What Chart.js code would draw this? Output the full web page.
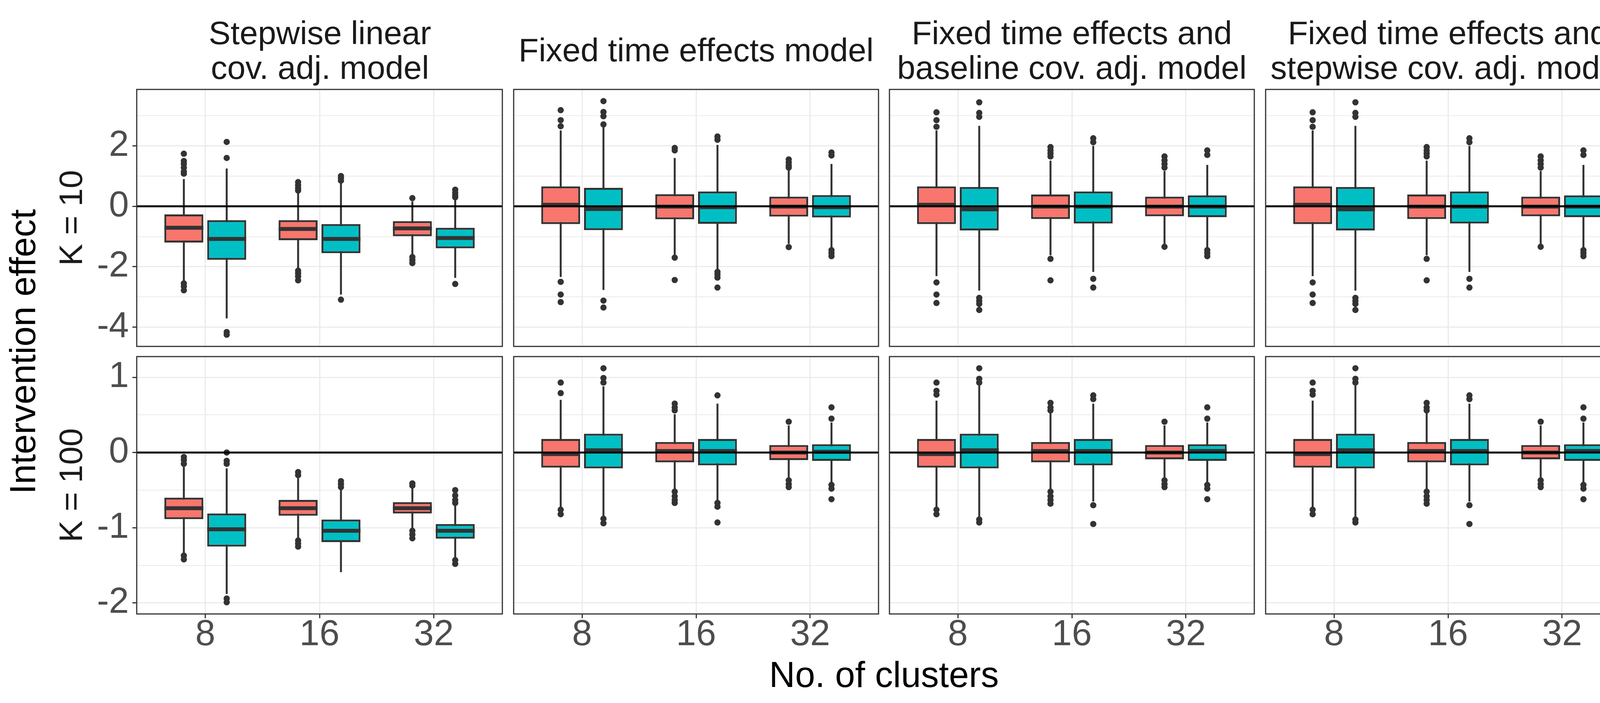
<!DOCTYPE html>
<html>
<head>
<meta charset="utf-8">
<script src="https://cdn.jsdelivr.net/npm/chart.js@4.4.1/dist/chart.umd.min.js"></script>
<style>
html,body{margin:0;padding:0;background:#fff;}
#wrap{position:relative;width:4200px;height:1800px;overflow:hidden;background:#fff;}
#wrap canvas{position:absolute;}
#txt{position:absolute;left:0;top:0;}
</style>
</head>
<body>
<div id="wrap"><svg id="txt" width="4200" height="1800" xmlns="http://www.w3.org/2000/svg"></svg></div>
<script>
// ---------------- data ----------------
const CLUSTERS = ['8', '16', '32'];
const MODEL_TITLES = [
  ['Stepwise linear', 'cov. adj. model'],
  ['Fixed time effects model'],
  ['Fixed time effects and', 'baseline cov. adj. model'],
  ['Fixed time effects and', 'stepwise cov. adj. model']
];
const K_LABELS = ['K = 10', 'K = 100'];
const X_TITLE = 'No. of clusters';
const Y_TITLE = 'Intervention effect';

// five-number summaries per cluster: [lower whisker, Q1, median, Q3, upper whisker]
// group A = red, group B = teal
// ---- K = 10 ----
const SLC_K10_A = [[-2.46, -1.20, -0.71, -0.27, 0.90], [-2.08, -1.12, -0.75, -0.46, 0.48], [-1.62, -0.99, -0.73, -0.49, 0.16]];
const SLC_K10_A_OUT = [[1.74, 1.50, 1.40, 1.28, 1.15, 1.08, -2.55, -2.65, -2.78], [0.80, 0.70, 0.60, 0.52, -2.13, -2.22, -2.32, -2.45], [0.27, -1.68, -1.78, -1.88]];
const SLC_K10_B = [[-3.71, -1.77, -1.08, -0.46, 1.25], [-2.92, -1.55, -1.08, -0.59, 0.76], [-2.37, -1.39, -1.05, -0.71, 0.25]];
const SLC_K10_B_OUT = [[2.13, 1.60, -4.16, -4.25], [1.00, 0.93, 0.85, -3.09], [0.55, 0.45, 0.36, 0.30, -2.57]];

const FTE_K10_A = [[-2.34, -0.59, 0.05, 0.66, 2.51], [-1.61, -0.43, -0.01, 0.40, 1.60], [-1.24, -0.34, -0.01, 0.32, 1.21]];
const FTE_K10_A_OUT = [[3.18, 2.85, 2.65, -2.50, -2.92, -3.17], [1.93, 1.85, -1.70, -2.44], [1.55, 1.45, 1.35, 1.28, -1.35]];
const FTE_K10_B = [[-2.77, -0.79, -0.09, 0.61, 2.62], [-2.08, -0.58, -0.03, 0.49, 2.03], [-1.39, -0.37, -0.03, 0.37, 1.40]];
const FTE_K10_B_OUT = [[3.48, 3.12, 2.98, 2.71, -3.12, -3.35], [2.31, 2.20, -2.17, -2.26, -2.36, -2.69], [1.78, 1.68, -1.45, -1.55, -1.65]];

const FTB_K10_A = [[-2.31, -0.59, 0.05, 0.66, 2.51], [-1.62, -0.42, -0.01, 0.39, 1.51], [-1.25, -0.33, -0.01, 0.32, 1.17]];
const FTB_K10_A_OUT = [[3.11, 2.85, 2.63, -2.52, -2.92, -3.20], [1.96, 1.85, 1.75, 1.65, -1.74, -2.45], [1.65, 1.52, 1.40, 1.28, -1.34]];
const FTB_K10_B = [[-2.79, -0.80, -0.10, 0.64, 2.66], [-2.17, -0.57, -0.01, 0.49, 2.00], [-1.39, -0.36, -0.01, 0.36, 1.37]];
const FTB_K10_B_OUT = [[3.44, 3.09, 2.96, -3.03, -3.13, -3.23, -3.43], [2.25, 2.12, -2.40, -2.69], [1.85, 1.70, -1.45, -1.55, -1.65]];

const FTS_K10_A = [[-2.31, -0.59, 0.05, 0.66, 2.51], [-1.62, -0.42, -0.01, 0.39, 1.51], [-1.25, -0.33, -0.01, 0.32, 1.17]];
const FTS_K10_A_OUT = [[3.11, 2.85, 2.63, -2.52, -2.92, -3.20], [1.96, 1.85, 1.75, 1.65, -1.74, -2.45], [1.65, 1.52, 1.40, 1.28, -1.34]];
const FTS_K10_B = [[-2.79, -0.80, -0.10, 0.64, 2.66], [-2.17, -0.57, -0.01, 0.49, 2.00], [-1.39, -0.36, -0.01, 0.36, 1.37]];
const FTS_K10_B_OUT = [[3.44, 3.09, 2.96, -3.03, -3.13, -3.23, -3.43], [2.25, 2.12, -2.40, -2.69], [1.85, 1.70, -1.45, -1.55, -1.65]];

// ---- K = 100 ----
const SLC_K100_A = [[-1.34, -0.885, -0.74, -0.60, -0.19], [-1.145, -0.84, -0.74, -0.63, -0.34], [-1.01, -0.81, -0.74, -0.66, -0.47]];
const SLC_K100_A_OUT = [[-0.06, -0.10, -0.15, -1.37, -1.42], [-0.26, -0.30, -1.17, -1.21, -1.25], [-0.41, -0.44, -1.04, -1.09, -1.14]];
const SLC_K100_B = [[-1.88, -1.25, -1.02, -0.81, -0.21], [-1.59, -1.19, -1.04, -0.89, -0.49], [-1.41, -1.145, -1.04, -0.95, -0.685]];
const SLC_K100_B_OUT = [[0.00, -0.11, -0.15, -1.94, -1.99], [-0.38, -0.42, -0.46], [-0.50, -0.57, -0.63, -0.67, -1.43, -1.48]];

const FTE_K100_A = [[-0.73, -0.20, -0.02, 0.18, 0.70], [-0.49, -0.13, 0.02, 0.14, 0.51], [-0.35, -0.10, 0.00, 0.10, 0.36]];
const FTE_K100_A_OUT = [[0.93, 0.79, -0.76, -0.82], [0.65, 0.60, 0.56, -0.52, -0.58, -0.63, -0.67], [0.41, -0.37, -0.42, -0.46]];
const FTE_K100_B = [[-0.86, -0.21, 0.03, 0.25, 0.88], [-0.64, -0.17, 0.02, 0.18, 0.65], [-0.40, -0.11, 0.01, 0.11, 0.40]];
const FTE_K100_B_OUT = [[1.12, 0.99, 0.93, -0.88, -0.94], [0.76, -0.67, -0.72, -0.93], [0.60, 0.45, -0.43, -0.48, -0.62]];

const FTB_K100_A = [[-0.73, -0.20, -0.02, 0.18, 0.69], [-0.50, -0.13, 0.02, 0.14, 0.53], [-0.35, -0.09, 0.00, 0.10, 0.36]];
const FTB_K100_A_OUT = [[0.93, 0.82, 0.77, -0.76, -0.82], [0.66, 0.60, 0.56, -0.52, -0.58, -0.63, -0.68], [0.41, -0.37, -0.42, -0.46]];
const FTB_K100_B = [[-0.86, -0.21, 0.03, 0.25, 0.89], [-0.65, -0.17, 0.02, 0.18, 0.65], [-0.40, -0.11, 0.02, 0.11, 0.40]];
const FTB_K100_B_OUT = [[1.12, 0.98, 0.93, -0.89, -0.93], [0.76, 0.71, -0.70, -0.95], [0.60, 0.45, -0.43, -0.48, -0.62]];

const FTS_K100_A = [[-0.73, -0.20, -0.02, 0.18, 0.69], [-0.50, -0.13, 0.02, 0.14, 0.53], [-0.35, -0.09, 0.00, 0.10, 0.36]];
const FTS_K100_A_OUT = [[0.93, 0.82, 0.77, -0.76, -0.82], [0.66, 0.60, 0.56, -0.52, -0.58, -0.63, -0.68], [0.41, -0.37, -0.42, -0.46]];
const FTS_K100_B = [[-0.86, -0.21, 0.03, 0.25, 0.89], [-0.65, -0.17, 0.02, 0.18, 0.65], [-0.40, -0.11, 0.02, 0.11, 0.40]];
const FTS_K100_B_OUT = [[1.12, 0.98, 0.93, -0.89, -0.93], [0.76, 0.71, -0.70, -0.95], [0.60, 0.45, -0.43, -0.48, -0.62]];

const PANELS = [
  [[SLC_K10_A, SLC_K10_A_OUT, SLC_K10_B, SLC_K10_B_OUT],
   [FTE_K10_A, FTE_K10_A_OUT, FTE_K10_B, FTE_K10_B_OUT],
   [FTB_K10_A, FTB_K10_A_OUT, FTB_K10_B, FTB_K10_B_OUT],
   [FTS_K10_A, FTS_K10_A_OUT, FTS_K10_B, FTS_K10_B_OUT]],
  [[SLC_K100_A, SLC_K100_A_OUT, SLC_K100_B, SLC_K100_B_OUT],
   [FTE_K100_A, FTE_K100_A_OUT, FTE_K100_B, FTE_K100_B_OUT],
   [FTB_K100_A, FTB_K100_A_OUT, FTB_K100_B, FTB_K100_B_OUT],
   [FTS_K100_A, FTS_K100_A_OUT, FTS_K100_B, FTS_K100_B_OUT]]
];
const Y_STEP = [1, 0.5];        // grid step (major + minor)
const Y_LABEL_EVERY = [2, 1];   // labelled (major) tick spacing

// ---------------- style / layout ----------------
const FONT = "'Liberation Sans', Arial, Helvetica, sans-serif";
const RED = '#F8766D', TEAL = '#00BFC4', DARK = '#333333', GRID = '#EBEBEB';
const COL_LEFT = [350, 1313, 2275, 3238];
const PANEL_W = 938;
const ROW_TOP = [229, 913];
const PANEL_H = [658, 659];
const PAD = 60, XAXIS_H = 120, YAXIS_W = 350, EDGE = 6;
const DODGE = 0.75, BOX_FRAC = 0.91;
const TICK_FONT = 92, STRIP_FONT = 84, AXIS_TITLE_FONT = 92;

Chart.defaults.font.family = FONT;

function rowRange(r) {
  let mn = Infinity, mx = -Infinity;
  PANELS[r].forEach(p => p.forEach(arr => arr.forEach(row => row.forEach(v => {
    if (v < mn) mn = v; if (v > mx) mx = v;
  }))));
  const pad = (mx - mn) * 0.05;
  return [mn - pad, mx + pad];
}
function isMajor(r, v) {
  const k = v / Y_LABEL_EVERY[r];
  return Math.abs(k - Math.round(k)) < 1e-6;
}

const boxExtras = {
  id: 'boxExtras',
  afterDatasetsDraw(chart) {
    const {ctx, chartArea, scales} = chart;
    const y = scales.y;
    ctx.save();
    chart.data.datasets.forEach((ds, di) => {
      if (!ds.medians) return;
      const meta = chart.getDatasetMeta(di);
      meta.data.forEach((el, i) => {
        const py = y.getPixelForValue(ds.medians[i]);
        ctx.fillStyle = DARK;
        ctx.fillRect(el.x - el.width / 2, py - 5, el.width, 10);
      });
    });
    const y0 = y.getPixelForValue(0);
    ctx.fillStyle = '#000000';
    ctx.fillRect(chartArea.left, y0 - 2.5, chartArea.right - chartArea.left, 5);
    ctx.strokeStyle = DARK;
    ctx.lineWidth = 3;
    ctx.strokeRect(chartArea.left, chartArea.top, chartArea.right - chartArea.left, chartArea.bottom - chartArea.top);
    ctx.restore();
  }
};

function groupDatasets(stats, outs, stackId, color, side) {
  const chunk = DODGE / 2;
  return {
    box: {
      type: 'bar', stack: stackId, order: 1,
      data: stats.map((s, i) => ({x: i, y: [s[1], s[3]]})),
      medians: stats.map(s => s[2]),
      backgroundColor: color, borderColor: DARK, borderWidth: 5, borderSkipped: false,
      categoryPercentage: DODGE, barPercentage: BOX_FRAC
    },
    whisk: {
      type: 'bar', stack: stackId, order: 2,
      data: stats.map((s, i) => ({x: i, y: [s[0], s[4]]})),
      backgroundColor: DARK, borderWidth: 0,
      categoryPercentage: DODGE, barPercentage: 0.0455
    },
    out: {
      type: 'scatter', order: 0,
      data: outs.flatMap((arr, i) => arr.map(v => ({x: i + side * chunk / 2, y: v}))),
      pointRadius: 8, pointHoverRadius: 8, pointBackgroundColor: DARK, pointBorderWidth: 0
    }
  };
}

const wrap = document.getElementById('wrap');
for (let r = 0; r < 2; r++) {
  const [yMin, yMax] = rowRange(r);
  for (let c = 0; c < 4; c++) {
    const [A, AO, B, BO] = PANELS[r][c];
    const gA = groupDatasets(A, AO, 'A', RED, -1);
    const gB = groupDatasets(B, BO, 'B', TEAL, 1);
    const left = c === 0 ? COL_LEFT[0] - YAXIS_W : COL_LEFT[c] - EDGE;
    const padLeft = c === 0 ? 0 : EDGE;
    const yW = c === 0 ? YAXIS_W : 0;
    const bottomH = r === 1 ? XAXIS_H : PAD;
    const cw = (COL_LEFT[c] - left) + PANEL_W + EDGE;
    const ch = PAD + PANEL_H[r] + bottomH;
    const cv = document.createElement('canvas');
    cv.width = cw; cv.height = ch;
    cv.style.left = left + 'px';
    cv.style.top = (ROW_TOP[r] - PAD) + 'px';
    cv.style.width = cw + 'px'; cv.style.height = ch + 'px';
    wrap.appendChild(cv);
    new Chart(cv, {
      type: 'bar',
      data: { datasets: [gA.box, gB.box, gA.whisk, gB.whisk, gA.out, gB.out] },
      options: {
        responsive: false, animation: false, events: [],
        devicePixelRatio: 1,
        layout: { padding: { left: padLeft, right: EDGE, top: PAD, bottom: r === 1 ? 0 : PAD } },
        plugins: { legend: { display: false }, tooltip: { enabled: false }, title: { display: false } },
        scales: {
          x: {
            type: 'linear', min: -0.6, max: 2.6, stacked: true, offset: false,
            afterBuildTicks: s => { s.ticks = CLUSTERS.map((_, i) => ({value: i})); },
            afterFit: s => { s.height = r === 1 ? XAXIS_H : 0; },
            ticks: {
              display: r === 1, autoSkip: false, maxRotation: 0, minRotation: 0, padding: -2,
              color: '#4D4D4D', font: { size: TICK_FONT, lineHeight: 1 },
              callback: v => CLUSTERS[Math.round(v)]
            },
            grid: { offset: false, color: GRID, lineWidth: 3, drawTicks: r === 1, tickLength: 11, tickWidth: 3, tickColor: DARK },
            border: { display: false }
          },
          y: {
            type: 'linear', min: yMin, max: yMax, stacked: false,
            afterFit: s => { s.width = yW; },
            ticks: {
              display: c === 0, stepSize: Y_STEP[r], includeBounds: false, autoSkip: false, padding: 9,
              color: '#4D4D4D', font: { size: TICK_FONT, lineHeight: 1 },
              callback: v => isMajor(r, v) ? String(Math.round(v)) : ''
            },
            grid: {
              offset: false,
              color: GRID,
              lineWidth: ctx => (ctx.tick && isMajor(r, ctx.tick.value)) ? 3 : 2,
              drawTicks: c === 0, tickLength: 11, tickWidth: 3,
              tickColor: ctx => (ctx.tick && isMajor(r, ctx.tick.value)) ? DARK : 'rgba(0,0,0,0)'
            },
            border: { display: false }
          }
        }
      },
      plugins: [boxExtras]
    });
  }
}

// ---------------- text (strip labels, axis titles) ----------------
const SVGNS = 'http://www.w3.org/2000/svg';
const svg = document.getElementById('txt');
function addText(str, x, y, size, color, rotate) {
  const t = document.createElementNS(SVGNS, 'text');
  t.setAttribute('x', x); t.setAttribute('y', y);
  t.setAttribute('text-anchor', 'middle');
  t.setAttribute('font-family', FONT);
  t.setAttribute('font-size', size);
  t.setAttribute('fill', color);
  if (rotate) t.setAttribute('transform', `rotate(${rotate} ${x} ${y})`);
  t.textContent = str;
  svg.appendChild(t);
}
MODEL_TITLES.forEach((lines, c) => {
  const cx = COL_LEFT[c] + PANEL_W / 2;
  if (lines.length === 2) { addText(lines[0], cx, 113, STRIP_FONT, '#1A1A1A'); addText(lines[1], cx, 202, STRIP_FONT, '#1A1A1A'); }
  else addText(lines[0], cx, 157, STRIP_FONT, '#1A1A1A');
});
K_LABELS.forEach((lab, r) => addText(lab, 210, ROW_TOP[r] + PANEL_H[r] / 2, STRIP_FONT, '#1A1A1A', -90));
addText(Y_TITLE, 90, (ROW_TOP[0] + ROW_TOP[1] + PANEL_H[1]) / 2, AXIS_TITLE_FONT, '#000000', -90);
addText(X_TITLE, (COL_LEFT[0] + COL_LEFT[3] + PANEL_W) / 2, 1759, AXIS_TITLE_FONT, '#000000');
</script>
</body>
</html>
